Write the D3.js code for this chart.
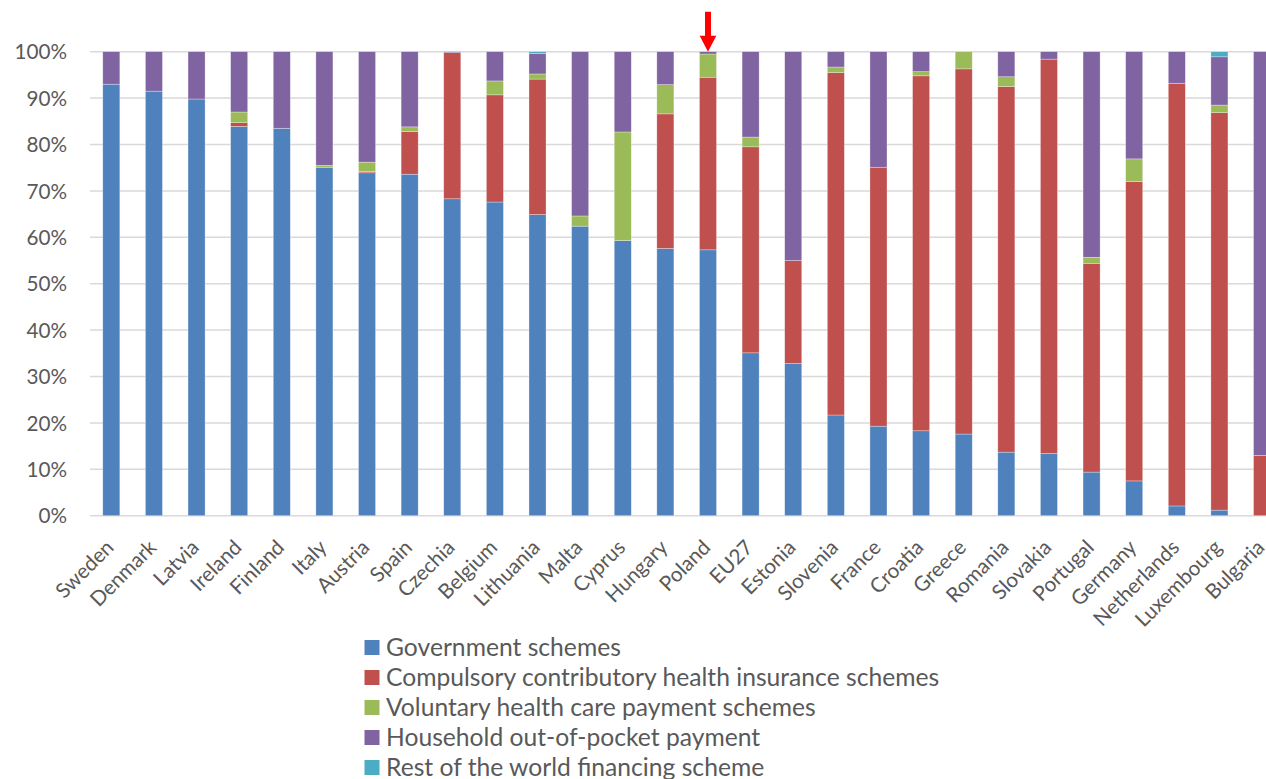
<!DOCTYPE html>
<html><head><meta charset="utf-8">
<script src="https://cdn.jsdelivr.net/npm/d3@7/dist/d3.min.js"></script>
<style>body{margin:0;background:#fff}svg{display:block}</style>
</head><body>
<svg id="chart" width="1266" height="779"></svg>
<script>
const categories = ["Sweden","Denmark","Latvia","Ireland","Finland","Italy","Austria","Spain","Czechia","Belgium","Lithuania","Malta","Cyprus","Hungary","Poland","EU27","Estonia","Slovenia","France","Croatia","Greece","Romania","Slovakia","Portugal","Germany","Netherlands","Luxembourg","Bulgaria"];
const government = [93.0,91.5,89.8,83.9,83.5,75.1,73.9,73.6,68.3,67.6,64.9,62.4,59.3,57.6,57.3,35.1,32.8,21.7,19.3,18.3,17.6,13.7,13.4,9.4,7.5,2.1,1.2,0];
const compulsory = [0,0,0,0.8,0,0,0.3,9.2,31.5,23.1,29.2,0,0,29.0,37.2,44.4,22.2,73.8,55.8,76.5,78.7,78.8,85.0,45.0,64.5,91.1,85.7,13.0];
const voluntary = [0,0,0,2.3,0,0.4,2.0,1.0,0,3.0,1.1,2.2,23.4,6.3,5.0,2.1,0,1.2,0,0.9,3.7,2.1,0,1.3,4.9,0,1.6,0];
const outOfPocket = [7.0,8.5,10.2,13.0,16.5,24.5,23.8,16.2,0.2,6.3,4.4,35.4,17.3,7.1,0.5,18.4,45.0,3.3,24.9,4.3,0,5.4,1.6,44.3,23.1,6.8,10.4,87.0];
const restOfWorld = [0,0,0,0,0,0,0,0,0,0,0.4,0,0,0,0,0,0,0,0,0,0,0,0,0,0,0,1.1,0];
const seriesNames = ["Government schemes","Compulsory contributory health insurance schemes","Voluntary health care payment schemes","Household out-of-pocket payment","Rest of the world financing scheme"];
const seriesColors = ["#4F81BD","#C0504D","#9BBB59","#8064A2","#4BACC6"];
const yTicks = [0,10,20,30,40,50,60,70,80,90,100];
const highlighted = "Poland";

(function () {
const svg = d3.select("#chart");
const FONT = "Lato, 'Open Sans', sans-serif";
const TXT = "#595959";

const probe = svg.append("text").attr("font-family", FONT).attr("font-size", 20).text("Government schemes");
const w20 = probe.node().getComputedTextLength();
probe.remove();
const fs = 20 * 197 / w20;      // axis labels
const fsLeg = 20 * 235 / w20;   // legend labels

const plotLeft = 90, plotTop = 51.7, plotBottom = 515.7;
const step = 42.62;
const x = d3.scaleBand().domain(categories).range([plotLeft, plotLeft + step * categories.length]).paddingInner(0.6).paddingOuter(0.3);
const y = d3.scaleLinear().domain([0, 100]).range([plotBottom, plotTop]);

svg.append("g").selectAll("line").data(yTicks).join("line")
  .attr("x1", plotLeft).attr("x2", 1266)
  .attr("y1", d => y(d)).attr("y2", d => y(d))
  .attr("stroke", "#d9d9d9").attr("stroke-width", 1.5);

const yAxis = d3.axisLeft(y).tickValues(yTicks).tickFormat(d => d + "%").tickSize(0).tickPadding(0);
const ya = svg.append("g").attr("transform", "translate(67,0)").call(yAxis);
ya.select(".domain").remove();
ya.selectAll("text").attr("font-family", FONT).attr("font-size", fs).attr("fill", TXT).attr("dy", "0.35em");

const table = categories.map((c, i) => ({cat: c, s0: government[i], s1: compulsory[i], s2: voluntary[i], s3: outOfPocket[i], s4: restOfWorld[i]}));
const stack = d3.stack().keys(["s0","s1","s2","s3","s4"])(table);

svg.append("g").selectAll("g").data(stack).join("g")
  .attr("fill", (d, i) => seriesColors[i])
  .selectAll("rect").data(d => d.filter(p => p[1] - p[0] > 0)).join("rect")
  .attr("x", d => x(d.data.cat))
  .attr("width", x.bandwidth())
  .attr("y", d => y(d[1]))
  .attr("height", d => y(d[0]) - y(d[1]))
  .attr("stroke", "#ffffff").attr("stroke-width", 0.6).attr("stroke-opacity", 0.5);

const xAxis = d3.axisBottom(x).tickSize(0).tickPadding(0);
const xa = svg.append("g").call(xAxis);
xa.select(".domain").remove();
xa.selectAll(".tick").attr("transform", d => `translate(${x(d) + x.bandwidth()/2 - 1.4},543.6)`);
xa.selectAll("text")
  .attr("font-family", FONT).attr("font-size", fs).attr("fill", TXT)
  .attr("text-anchor", "end").attr("y", 0).attr("dy", "0.35em")
  .attr("transform", "rotate(-45)");

const ax = x(highlighted) + x.bandwidth()/2;
svg.append("path")
  .attr("d", `M${ax-3},11.7 L${ax+3},11.7 L${ax+3},35.7 L${ax+8.3},35.7 L${ax},51.7 L${ax-8.3},35.7 L${ax-3},35.7 Z`)
  .attr("fill", "#FF0000");

const lg = svg.append("g");
const rows = lg.selectAll("g").data(seriesNames).join("g")
  .attr("transform", (d, i) => `translate(364.5,${647.5 + i * 30})`);
rows.append("rect").attr("x", 0).attr("y", -7.5).attr("width", 15).attr("height", 15)
  .attr("fill", (d, i) => seriesColors[i]);
rows.append("text").attr("x", 21.5).attr("y", 0).attr("dy", "0.35em")
  .attr("font-family", FONT).attr("font-size", fsLeg).attr("fill", TXT).text(d => d);
})();
</script>
</body></html>
